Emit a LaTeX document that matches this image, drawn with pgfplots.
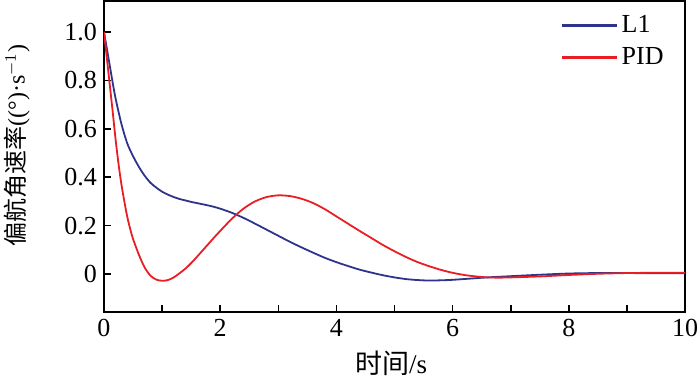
\documentclass[border=0pt]{standalone}
\usepackage{pgfplots}
\pgfplotsset{compat=1.18}
\usepackage{fontspec}
\setmainfont{Liberation Serif}
\newfontfamily\cjk{Noto Sans CJK SC}
\definecolor{lblue}{RGB}{46,52,140}
\definecolor{lred}{RGB}{232,30,36}
\begin{document}
\begin{tikzpicture}
\begin{axis}[
  scale only axis,
  width=290.5pt, height=155.5pt,
  xmin=0, xmax=10, ymin=-0.157, ymax=1.128,
  axis line style={line width=0.9pt},
  tick style={line width=0.8pt, black},
  tick align=inside,
  xtick pos=bottom, ytick pos=left,
  major tick length=3.5pt, minor tick length=3.5pt,
  xtick={0,2,4,6,8,10},
  xticklabels={0,2,4,6,8,10},
  minor xtick={1,3,5,7,9},
  ytick={0,0.2,0.4,0.6,0.8,1.0},
  yticklabels={0,0.2,0.4,0.6,0.8,1.0},
  ticklabel style={font=\fontsize{13}{14}\selectfont},
  every axis y label/.style={at={(axis description cs:-0.1497,0.535)}, rotate=90, anchor=center},
  every axis x label/.style={at={(axis description cs:0.494,-0.164)}, anchor=center},
  xlabel={\fontsize{13.5}{14}\selectfont{\cjk 时间}/s},
  ylabel={\fontsize{12}{13}\selectfont{\cjk 偏航角速率}((°)·s$^{-1}$)},
  legend style={at={(axis description cs:1,1)}, anchor=north east, xshift=-5.5pt, yshift=-3pt,
    draw=none, fill=none, font=\fontsize{13}{14}\selectfont, row sep=2pt},
  legend cell align=left,
  legend image code/.code={\draw[#1] (0pt,0pt) -- (27.5pt,0pt);},
]
\addlegendimage{draw=lblue, line width=1.2pt}
\addlegendentry{L1}
\addlegendimage{draw=lred, line width=1.2pt}
\addlegendentry{PID}
\addplot[color=lblue, line width=0.9pt, smooth, forget plot] coordinates {
(0,1.0) (0.05,0.93) (0.1,0.86) (0.15,0.79) (0.2,0.725) (0.3,0.62) (0.4,0.54) (0.5,0.487) (0.6,0.443)
(0.7,0.406) (0.8,0.377) (0.9,0.357) (1.0,0.340) (1.1,0.328) (1.2,0.318) (1.3,0.310) (1.4,0.304) (1.5,0.298)
(1.6,0.293) (1.7,0.288) (1.8,0.283) (1.9,0.277) (2.0,0.270) (2.2,0.253) (2.4,0.232) (2.6,0.208) (2.8,0.183)
(3.0,0.158) (3.2,0.133) (3.4,0.110) (3.6,0.088) (3.8,0.067) (4.0,0.049) (4.2,0.033) (4.4,0.018) (4.6,0.006)
(4.8,-0.005) (5.0,-0.014) (5.2,-0.021) (5.4,-0.025) (5.6,-0.027) (5.8,-0.026) (6.0,-0.024) (6.3,-0.019)
(6.6,-0.014) (7.0,-0.009) (7.5,-0.003) (8.0,0.002) (8.5,0.004) (9.0,0.004) (9.5,0.003) (10,0.003)
};
\addplot[color=lred, line width=0.9pt, smooth, forget plot] coordinates {
(0,1.0) (0.05,0.89) (0.1,0.78) (0.15,0.67) (0.2,0.555) (0.25,0.455) (0.3,0.37) (0.35,0.30) (0.4,0.237)
(0.45,0.187) (0.5,0.145) (0.6,0.08) (0.7,0.027) (0.8,-0.007) (0.9,-0.023) (1.0,-0.028) (1.1,-0.025)
(1.2,-0.014) (1.3,0.003) (1.4,0.022) (1.5,0.045) (1.6,0.071) (1.7,0.098) (1.8,0.125) (1.9,0.152) (2.0,0.178)
(2.2,0.228) (2.4,0.27) (2.6,0.300) (2.8,0.318) (3.0,0.325) (3.2,0.322) (3.4,0.311) (3.6,0.293) (3.8,0.268)
(4.0,0.238) (4.2,0.208) (4.4,0.178) (4.6,0.149) (4.8,0.12) (5.0,0.094) (5.2,0.07) (5.4,0.049) (5.6,0.032)
(5.8,0.017) (6.0,0.005) (6.2,-0.004) (6.4,-0.010) (6.6,-0.014) (6.8,-0.015) (7.0,-0.014) (7.5,-0.010)
(8.0,-0.004) (8.5,0.001) (9.0,0.004) (9.5,0.005) (10,0.005)
};
\end{axis}
\pgfresetboundingbox
\path ([xshift=-52pt,yshift=-35pt]current axis.south west) rectangle ([xshift=7.5pt,yshift=0.5pt]current axis.north east);
\end{tikzpicture}
\end{document}
